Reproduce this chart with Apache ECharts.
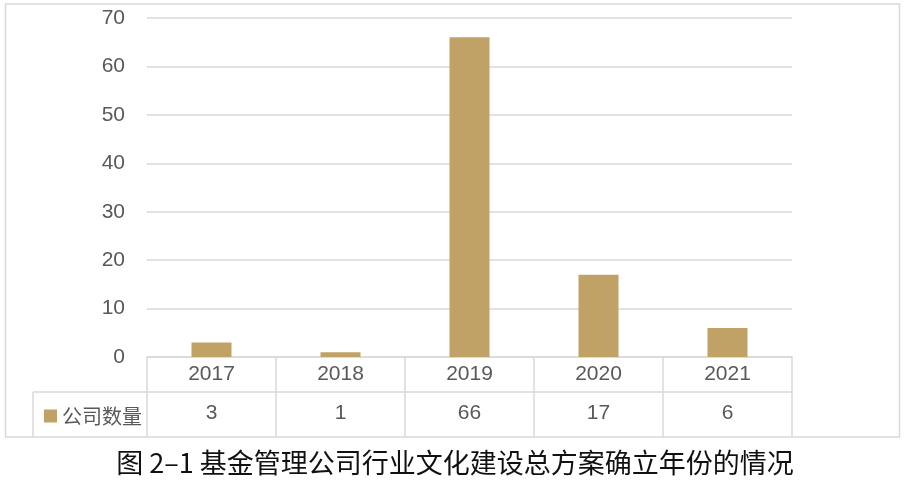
<!DOCTYPE html>
<html>
<head>
<meta charset="utf-8">
<script src="https://cdn.jsdelivr.net/npm/echarts@6/dist/echarts.min.js"></script>
<style>html,body{margin:0;padding:0;background:#fff}#c{width:910px;height:489px}</style>
</head>
<body>
<div id="c"></div>
<script>
var categories = ['2017', '2018', '2019', '2020', '2021'];
var counts = [3, 1, 66, 17, 6];
var seriesName = '公司数量';
var yTicks = [0, 10, 20, 30, 40, 50, 60, 70];
var titleText = '图 2–1 基金管理公司行业文化建设总方案确立年份的情况';

var lineColor = '#d9d9d9';
var textColor = '#595959';
var barColor = '#C0A266';
var fontFam = '"Liberation Sans", "Noto Sans CJK SC", sans-serif';

var chart = echarts.init(document.getElementById('c'));
chart.setOption({
  animation: false,
  title: {
    text: titleText, left: 'center', top: 444,
    textStyle: { fontSize: 27, fontWeight: 'normal', color: '#111', fontFamily: '"Noto Sans CJK SC", sans-serif' }
  },
  legend: {
    data: [seriesName], left: 39, top: 401, itemWidth: 13, itemHeight: 13, icon: 'rect',
    textStyle: { fontSize: 20, color: textColor, fontFamily: '"Noto Sans CJK SC", sans-serif' }
  },
  grid: { left: 147, right: 118, top: 18, bottom: 132 },
  xAxis: [{
    type: 'category', data: categories, position: 'bottom',
    axisLine: { show: true, lineStyle: { color: lineColor, width: 1.5 } },
    axisTick: { show: true, interval: 0, length: 80, lineStyle: { color: lineColor, width: 1.5 } },
    axisLabel: { fontSize: 21, color: textColor, margin: 7, fontFamily: fontFam }
  }, {
    type: 'category', data: categories, position: 'bottom', offset: 35,
    axisLine: { show: true, lineStyle: { color: lineColor, width: 1.5 } },
    axisTick: { show: false },
    axisLabel: { fontSize: 21, color: textColor, margin: 11, fontFamily: fontFam,
      formatter: function (v, i) { return String(counts[i]); } }
  }],
  yAxis: {
    type: 'value', min: yTicks[0], max: yTicks[yTicks.length - 1], interval: 10,
    axisLine: { show: false }, axisTick: { show: false },
    axisLabel: { fontSize: 21, color: textColor, margin: 22, fontFamily: fontFam },
    splitLine: { lineStyle: { color: lineColor, width: 1.5 } }
  },
  series: [{
    name: seriesName, type: 'bar', data: counts, barWidth: 40, xAxisIndex: 0,
    itemStyle: { color: barColor }
  }],
  graphic: [
    { type: 'rect', shape: { x: 5.5, y: 4, width: 894, height: 433 }, style: { fill: 'none', stroke: lineColor, lineWidth: 1.5 }, silent: true },
    { type: 'line', shape: { x1: 33, y1: 392, x2: 147, y2: 392 }, style: { stroke: lineColor, lineWidth: 1.5 }, silent: true },
    { type: 'line', shape: { x1: 33, y1: 392, x2: 33, y2: 437 }, style: { stroke: lineColor, lineWidth: 1.5 }, silent: true }
  ]
});
</script>
</body>
</html>
